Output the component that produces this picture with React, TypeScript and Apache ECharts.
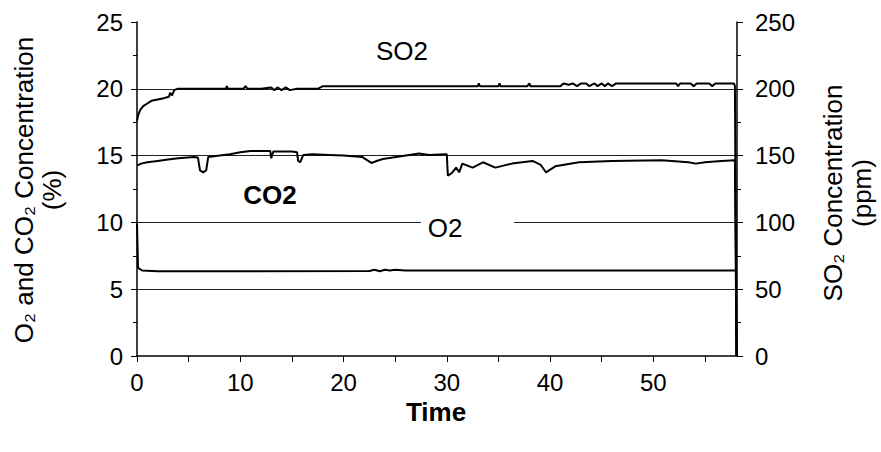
import React, { useEffect, useRef } from "react";
import * as echarts from "echarts";

// Time (x) and values
const so2Time = [0, 0.1, 0.3, 0.6, 1.0, 1.4, 2.0, 2.6, 3.1, 3.2, 3.4, 3.6, 3.9, 6, 8.6, 8.7, 8.8, 10.3, 10.5, 10.7, 12, 13, 13.3, 13.6, 14.0, 14.4, 14.8, 15.5, 17.5, 18, 22, 28, 33, 33.1, 33.2, 35, 35.1, 35.2, 37.8, 38, 38.1, 41, 41.3, 41.8, 42.2, 42.6, 43, 43.5, 43.8, 44.3, 44.6, 45, 45.3, 45.6, 46, 46.4, 50, 52.2, 52.4, 52.6, 53.6, 53.9, 54.2, 55.4, 55.7, 56, 57.8, 57.9, 58.05];
const so2Ppm = [176, 180, 184, 187, 189, 191, 192, 193, 194, 197, 195, 199, 200, 200, 200, 202, 200, 200, 202, 200, 200, 201, 199, 201, 199, 201, 199, 200, 200, 202, 202, 202, 202, 204, 202, 202, 204, 202, 202, 204, 202, 202, 204, 203, 204, 202, 204, 204, 202, 204, 202, 204, 202, 204, 202, 204, 204, 204, 202, 204, 204, 202, 204, 204, 202, 204, 204, 202, 0];

const co2Time = [0, 0.4, 1, 2, 3, 4, 5.5, 5.9, 6.1, 6.4, 6.7, 6.9, 8, 9, 10, 11, 12.9, 13.0, 13.2, 15, 15.5, 15.6, 15.8, 16.1, 17, 18.6, 20, 21.8, 22.2, 22.7, 23.2, 23.8, 25.1, 27.3, 28.3, 29.8, 30.0, 30.1, 30.5, 30.9, 31.2, 31.5, 32.5, 33.5, 34.7, 36.3, 38.3, 39.1, 39.6, 40.5, 42.8, 46, 50.8, 53.4, 54.1, 55, 56.6, 57.9, 58.05];
const co2Pct = [14.25, 14.4, 14.5, 14.6, 14.7, 14.8, 14.9, 14.85, 13.9, 13.75, 13.9, 14.9, 15.0, 15.1, 15.25, 15.35, 15.35, 14.8, 15.3, 15.3, 15.25, 14.6, 14.5, 15.05, 15.1, 15.05, 15.0, 14.9, 14.7, 14.45, 14.6, 14.75, 14.9, 15.15, 15.05, 15.1, 15.1, 13.5, 13.7, 14.1, 13.75, 14.4, 14.1, 14.5, 14.1, 14.4, 14.6, 14.3, 13.75, 14.2, 14.5, 14.6, 14.65, 14.5, 14.4, 14.5, 14.6, 14.65, 0];

const o2Time = [0, 0.1, 0.5, 2, 10, 22.5, 23, 23.5, 24, 24.5, 25, 26, 30, 40, 50, 58, 58.05];
const o2Pct = [9.9, 6.6, 6.4, 6.35, 6.35, 6.37, 6.45, 6.35, 6.45, 6.4, 6.45, 6.4, 6.4, 6.4, 6.4, 6.4, 0];

const leftTicks = { min: 0, max: 25, interval: 5 };
const rightTicks = { min: 0, max: 250, interval: 50 };
const timeRange = { min: 0, max: 58.1 };

const FONT = "'Liberation Sans', Arial, sans-serif";
const TICK_FS = 24;
const TITLE_FS = 26;

const pairs = (xs: number[], ys: number[]) => xs.map((x, i) => [x, ys[i]]);

export default function App() {
  const ref = useRef<HTMLDivElement>(null);
  useEffect(() => {
    const chart = echarts.init(ref.current!, null, { renderer: "svg" });
    const lineStyle = { color: "#000", width: 2 };
    const txt = (extra: any) => ({ fontFamily: FONT, fill: "#000", align: "center", verticalAlign: "middle", ...extra });
    chart.setOption({
      animation: false,
      backgroundColor: "#fff",
      textStyle: { fontFamily: FONT },
      grid: { left: 137, right: 144, top: 22, bottom: 96 },
      xAxis: {
        type: "value",
        min: timeRange.min,
        max: timeRange.max,
        interval: 5,
        axisLine: { show: true, lineStyle: { color: "#000", width: 1.5 } },
        axisTick: { show: true, inside: false, length: 6, lineStyle: { color: "#000" } },
        axisLabel: {
          color: "#000",
          fontSize: TICK_FS,
          fontFamily: FONT,
          margin: 14,
          showMaxLabel: false,
          formatter: (v: number) => (Math.abs(v % 10) < 1e-9 ? String(v) : ""),
        },
        splitLine: { show: false },
      },
      yAxis: [
        {
          type: "value",
          position: "left",
          min: leftTicks.min,
          max: leftTicks.max,
          interval: leftTicks.interval,
          axisLine: { show: true, lineStyle: { color: "#000", width: 1.5 } },
          axisTick: { show: true, length: 6, lineStyle: { color: "#000" } },
          minorTick: { show: true, splitNumber: 2, length: 4, lineStyle: { color: "#000" } },
          axisLabel: { color: "#000", fontSize: TICK_FS, fontFamily: FONT, margin: 14 },
          splitLine: { show: true, showMaxLine: false, showMinLine: false, lineStyle: { color: "#222", width: 1 } },
        },
        {
          type: "value",
          position: "right",
          min: rightTicks.min,
          max: rightTicks.max,
          interval: rightTicks.interval,
          axisLine: { show: true, lineStyle: { color: "#000", width: 1.5 } },
          axisTick: { show: true, length: 6, lineStyle: { color: "#000" } },
          minorTick: { show: true, splitNumber: 2, length: 4, lineStyle: { color: "#000" } },
          axisLabel: { color: "#000", fontSize: TICK_FS, fontFamily: FONT, margin: 18 },
          splitLine: { show: false },
        },
      ],
      series: [
        { name: "SO2", type: "line", yAxisIndex: 1, data: pairs(so2Time, so2Ppm), showSymbol: false, lineStyle, z: 3 },
        { name: "CO2", type: "line", yAxisIndex: 0, data: pairs(co2Time, co2Pct), showSymbol: false, lineStyle, z: 3 },
        { name: "O2", type: "line", yAxisIndex: 0, data: pairs(o2Time, o2Pct), showSymbol: false, lineStyle, z: 3 },
      ],
      graphic: [
        {
          type: "text",
          x: 38,
          y: 190,
          rotation: Math.PI / 2,
          style: txt({ text: "O₂ and CO₂ Concentration\n(%)", fontSize: TITLE_FS, lineHeight: 28 }),
        },
        {
          type: "text",
          x: 847,
          y: 193,
          rotation: Math.PI / 2,
          style: txt({ text: "SO₂ Concentration\n(ppm)", fontSize: TITLE_FS, lineHeight: 29 }),
        },
        {
          type: "text",
          x: 436,
          y: 412,
          style: txt({ text: "Time", fontSize: TITLE_FS, fontWeight: "bold" }),
        },
        { type: "text", x: 402, y: 51, style: txt({ text: "SO2", fontSize: TITLE_FS }) },
        { type: "text", x: 270, y: 195, style: txt({ text: "CO2", fontSize: TITLE_FS, fontWeight: "bold" }) },
        { type: "rect", shape: { x: 421, y: 214, width: 93, height: 28 }, style: { fill: "#fff" }, z: 10 },
        { type: "text", x: 445, y: 228, z: 11, style: txt({ text: "O2", fontSize: TITLE_FS }) },
      ],
    });
    return () => chart.dispose();
  }, []);
  return <div ref={ref} style={{ position: "absolute", left: 0, top: 0, width: 881, height: 452 }} />;
}
